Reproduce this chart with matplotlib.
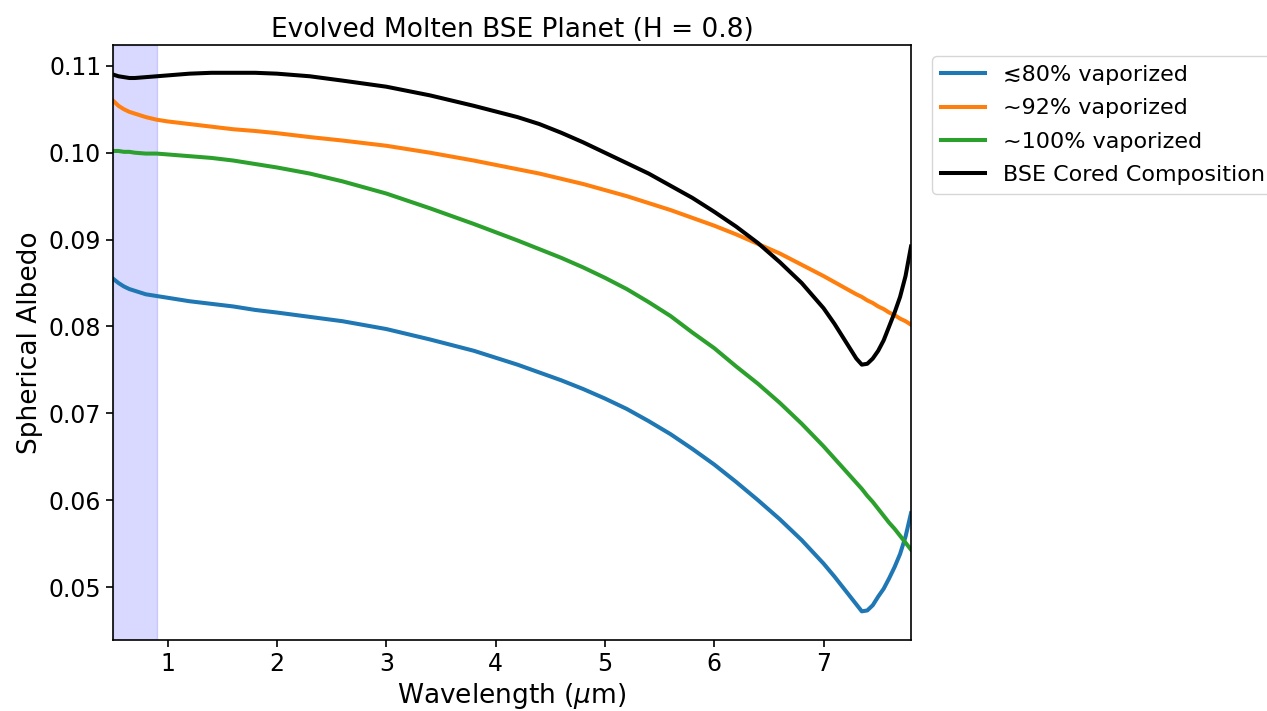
import matplotlib
matplotlib.use("Agg")
import matplotlib.pyplot as plt

wavelength = [0.5, 0.55, 0.6, 0.65, 0.7, 0.8, 0.9, 1.0, 1.2, 1.4, 1.6, 1.8, 2.0,
              2.3, 2.6, 3.0, 3.4, 3.8, 4.2, 4.4, 4.6, 4.8, 5.0, 5.2, 5.4, 5.6,
              5.8, 6.0, 6.2, 6.4, 6.6, 6.8, 7.0, 7.1, 7.2, 7.3, 7.35, 7.4, 7.45,
              7.5, 7.55, 7.6, 7.65, 7.7, 7.75, 7.8]

albedo_80 = [0.0855, 0.0850, 0.0846, 0.0843, 0.0841, 0.0837, 0.0835, 0.0833, 0.0829,
             0.0826, 0.0823, 0.0819, 0.0816, 0.0811, 0.0806, 0.0797, 0.0785, 0.0772,
             0.0756, 0.0747, 0.0738, 0.0728, 0.0717, 0.0705, 0.0691, 0.0676, 0.0659,
             0.0641, 0.0621, 0.0600, 0.0578, 0.0554, 0.0527, 0.0512, 0.0496, 0.0480,
             0.0472, 0.0473, 0.0479, 0.0489, 0.0498, 0.0510, 0.0523, 0.0538, 0.0558,
             0.0585]

albedo_92 = [0.1060, 0.1054, 0.1050, 0.1047, 0.1045, 0.1041, 0.1038, 0.1036, 0.1033,
             0.1030, 0.1027, 0.1025, 0.10225, 0.1018, 0.1014, 0.1008, 0.1000, 0.0991,
             0.0981, 0.0976, 0.0970, 0.0964, 0.0957, 0.0950, 0.0942, 0.0934, 0.0925,
             0.0916, 0.0906, 0.0895, 0.0884, 0.0871, 0.0858, 0.0851, 0.0844, 0.0837,
             0.0834, 0.0830, 0.0827, 0.0823, 0.0820, 0.0816, 0.0813, 0.0809, 0.0806,
             0.0802]

albedo_100 = [0.1002, 0.1002, 0.1001, 0.1001, 0.1000, 0.0999, 0.0999, 0.0998, 0.0996,
              0.0994, 0.0991, 0.0987, 0.0983, 0.0976, 0.0967, 0.0953, 0.0936, 0.0918,
              0.0899, 0.0889, 0.0879, 0.0868, 0.0856, 0.0843, 0.0828, 0.0812, 0.0793,
              0.0775, 0.0754, 0.0734, 0.0712, 0.0688, 0.0662, 0.0648, 0.0634, 0.0620,
              0.0613, 0.0605, 0.0598, 0.0590, 0.0582, 0.0574, 0.0567, 0.0559, 0.0551,
              0.0543]

albedo_cored = [0.1090, 0.1088, 0.1087, 0.1086, 0.1086, 0.1087, 0.1088, 0.1089, 0.1091,
                0.1092, 0.1092, 0.1092, 0.1091, 0.1088, 0.1083, 0.1076, 0.1066, 0.1054,
                0.1041, 0.1033, 0.1023, 0.1012, 0.1000, 0.0988, 0.0976, 0.0962, 0.0948,
                0.0932, 0.0915, 0.0896, 0.0874, 0.0850, 0.0821, 0.0803, 0.0783, 0.0763,
                0.0756, 0.0757, 0.0763, 0.0772, 0.0784, 0.0800, 0.0816, 0.0834, 0.0858,
                0.0892]

fig, ax = plt.subplots(figsize=(12.67, 7.11), dpi=100)
fig.subplots_adjust(left=113/1267, right=911/1267, top=1-45/711, bottom=1-640/711)

# optical band
ax.axvspan(0.5, 0.9, color="b", alpha=0.15)

ax.plot(wavelength, albedo_80, color="C0", lw=2.9, label="≲80% vaporized")
ax.plot(wavelength, albedo_92, color="C1", lw=2.9, label="~92% vaporized")
ax.plot(wavelength, albedo_100, color="C2", lw=2.9, label="~100% vaporized")
ax.plot(wavelength, albedo_cored, color="k", lw=2.9, label="BSE Cored Composition")

ax.set_xlim(0.5, 7.8)
ax.set_ylim(0.0439, 0.1124)
ax.set_xlabel(r"Wavelength ($\mu$m)", fontsize=19)
ax.set_ylabel("Spherical Albedo", fontsize=19)
ax.set_title("Evolved Molten BSE Planet (H = 0.8)", fontsize=19)
ax.tick_params(labelsize=17, length=5, width=1.2)
for spine in ax.spines.values():
    spine.set_linewidth(1.2)
ax.legend(loc="upper left", bbox_to_anchor=(1.0125, 1), fontsize=16, labelspacing=0.6)

plt.savefig("out.png")
